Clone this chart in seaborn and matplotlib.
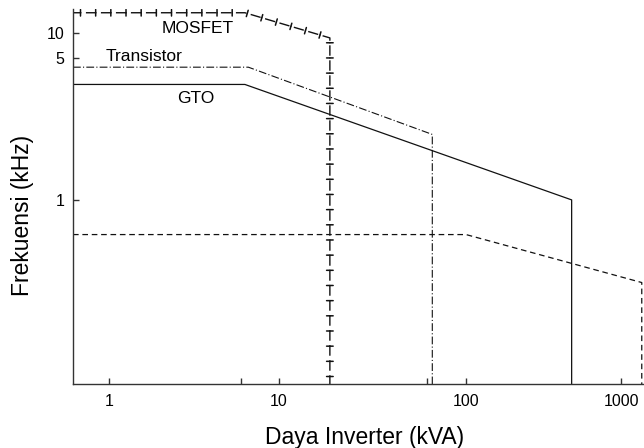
import numpy as np
import matplotlib as mpl
mpl.use('Agg')
import matplotlib.pyplot as plt
import matplotlib.patheffects as pe
import seaborn as sns

# values (kVA, kHz)
x_left = 0.614
x_right = 1406
y_bottom = 0.079
y_top = 13.9

mosfet_x = [x_left, 6.3, 18.7, 18.7]
mosfet_y = [13.2, 13.2, 8.7, y_bottom]

transistor_x = [x_left, 6.6, 66, 66]
transistor_y = [4.5, 4.5, 2.1, y_bottom]

gto_x = [x_left, 6.3, 480, 480]
gto_y = [3.7, 3.7, 1.0, y_bottom]

other_x = [x_left, 100, 1360, 1360]
other_y = [0.62, 0.62, 0.32, y_bottom]

x_ticks = [1, 10, 100, 1000]
x_tick_labels = ['1', '10', '100', '1000']
x_minor = [6, 62]
y_ticks = [1, 5, 10]
y_tick_labels = ['1', '5', '10']

# the drawing's log axes are not evenly spaced per decade
x_dec = [-6, 0, 1, 2, 3, 9]
x_len = [-6 * 170, 0, 170, 357, 512, 512 + 6 * 155]
y_dec = [-6, 0, np.log10(5), 1, 7]
y_len = [-6 * 167, 0, 142, 167, 167 + 6 * 167]


def make_scale(dec, length):
    def fwd(v):
        return np.interp(np.log10(np.clip(v, 1e-12, None)), dec, length)

    def inv(p):
        return 10 ** np.interp(p, length, dec)
    return fwd, inv


sns.set_style('ticks')
plt.rcParams['font.family'] = ['Liberation Sans', 'DejaVu Sans']
plt.rcParams['text.color'] = 'black'
plt.rcParams['axes.labelcolor'] = 'black'

fig = plt.figure(figsize=(6.44, 4.48), dpi=100)
ax = fig.add_axes([73 / 644, 1 - 384 / 448, (644 - 73) / 644, (384 - 9) / 448])

ax.set_xscale('function', functions=make_scale(x_dec, x_len))
ax.set_yscale('function', functions=make_scale(y_dec, y_len))

line_col = '#111111'

# MOSFET: broken line with "+" crosses along it
sns.lineplot(x=mosfet_x, y=mosfet_y, sort=False, estimator=None, ax=ax,
             color=line_col, linewidth=1.0, linestyle=(1.5, (7.5, 3.3)))
plus = [pe.TickedStroke(spacing=10.8, angle=90, length=0.22),
        pe.TickedStroke(spacing=10.8, angle=90, length=-0.22)]
sns.lineplot(x=mosfet_x, y=mosfet_y, sort=False, estimator=None, ax=ax,
             color=line_col, linewidth=1.1, path_effects=plus)

sns.lineplot(x=transistor_x, y=transistor_y, sort=False, estimator=None, ax=ax,
             color=line_col, linewidth=0.8, linestyle=(0, (7, 2, 1, 2)))
sns.lineplot(x=gto_x, y=gto_y, sort=False, estimator=None, ax=ax,
             color=line_col, linewidth=0.9, linestyle='-')
sns.lineplot(x=other_x, y=other_y, sort=False, estimator=None, ax=ax,
             color=line_col, linewidth=0.9, linestyle=(0, (4.5, 3)))

ax.set_xlim(x_left, x_right)
ax.set_ylim(y_bottom, y_top)

ax.xaxis.set_major_locator(mpl.ticker.FixedLocator(x_ticks))
ax.xaxis.set_major_formatter(mpl.ticker.FixedFormatter(x_tick_labels))
ax.xaxis.set_minor_locator(mpl.ticker.FixedLocator(x_minor))
ax.xaxis.set_minor_formatter(mpl.ticker.NullFormatter())
ax.yaxis.set_major_locator(mpl.ticker.FixedLocator(y_ticks))
ax.yaxis.set_major_formatter(mpl.ticker.FixedFormatter(y_tick_labels))
ax.yaxis.set_minor_locator(mpl.ticker.NullLocator())

ax.tick_params(which='both', direction='in', length=4, width=1.0,
               color='#333333', labelsize=11.5, labelcolor='black')
ax.tick_params(axis='x', pad=7)
ax.tick_params(axis='y', pad=6)

sns.despine(ax=ax)
for s in ['left', 'bottom']:
    ax.spines[s].set_linewidth(1.0)
    ax.spines[s].set_color('#333333')

ax.text(3.34, 10.0, 'MOSFET', ha='center', va='baseline', fontsize=12.5)
ax.text(1.6, 4.8, 'Transistor', ha='center', va='baseline', fontsize=12.5)
ax.text(3.25, 3.0, 'GTO', ha='center', va='baseline', fontsize=12.5)

ax.set_xlabel('Daya Inverter (kVA)', fontsize=16.5)
ax.set_ylabel('Frekuensi (kHz)', fontsize=16.5)
ax.xaxis.set_label_coords(0.51, -0.113)
ax.yaxis.set_label_coords(-0.068, 0.45)

fig.savefig('out.png', dpi=100)
